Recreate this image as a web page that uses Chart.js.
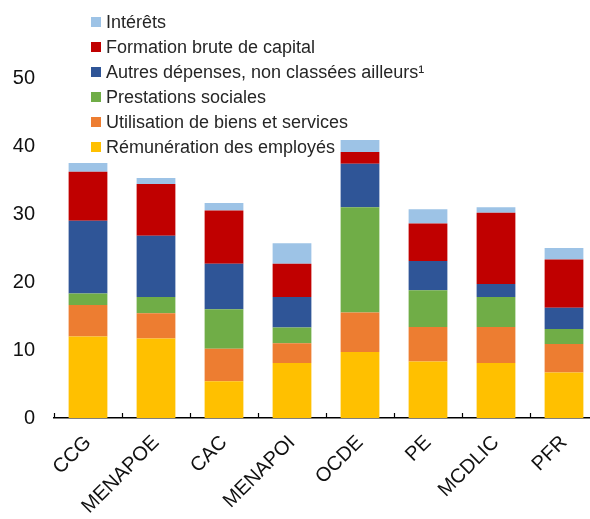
<!DOCTYPE html>
<html>
<head>
<meta charset="utf-8">
<script src="https://cdn.jsdelivr.net/npm/chart.js@4.4.0/dist/chart.umd.min.js"></script>
<style>
  html, body { margin: 0; padding: 0; background: #fff; overflow: hidden; }
  #wrap { width: 600px; height: 519px; }
</style>
</head>
<body>
<div id="wrap"><canvas id="canvas" width="600" height="519"></canvas></div>
<script>
// categories (regions)
let regions = ['CCG', 'MENAPOE', 'CAC', 'MENAPOI', 'OCDE', 'PE', 'MCDLIC', 'PFR'];

// % values, bottom to top
let remuneration = [12.0, 11.7, 5.4, 8.1, 9.7, 8.3, 8.1, 6.7];
let biensServices = [4.6, 3.7, 4.8, 2.9, 5.8, 5.1, 5.3, 4.2];
let prestations = [1.7, 2.4, 5.8, 2.3, 15.5, 5.4, 4.4, 2.2];
let autresDepenses = [10.7, 9.0, 6.7, 4.5, 6.4, 4.3, 1.9, 3.1];
let formationCapital = [7.2, 7.6, 7.8, 4.9, 1.7, 5.5, 10.5, 7.1];
let interets = [1.3, 0.9, 1.1, 3.0, 1.8, 2.1, 0.8, 1.7];

let yTicks = [0, 10, 20, 30, 40, 50];

let font = 'Liberation Sans, Arial, sans-serif';

// legend drawn inside the plot area, top item = last dataset
let insideLegend = {
  id: 'insideLegend',
  afterDraw(chart) {
    let ctx = chart.ctx;
    let sets = chart.data.datasets.slice().reverse();
    ctx.save();
    ctx.font = '18px ' + font;
    ctx.textBaseline = 'middle';
    ctx.textAlign = 'left';
    sets.forEach(function(ds, i){
      let y = 22 + i * 25;
      ctx.fillStyle = ds.backgroundColor;
      ctx.fillRect(91, y - 5, 10, 10);
      ctx.fillStyle = '#262626';
      ctx.fillText(ds.label, 106, y + 1);
    });
    ctx.restore();
  }
};

// small tick marks pointing up from the x axis, between categories
let innerTicks = {
  id: 'innerTicks',
  afterDraw(chart) {
    let x = chart.scales.x;
    let ctx = chart.ctx;
    let step = (x.right - x.left) / regions.length;
    ctx.save();
    ctx.strokeStyle = '#000';
    ctx.lineWidth = 1.2;
    for (let i = 0; i <= regions.length; i++) {
      let px = Math.round(x.left + i * step) + 0.5;
      ctx.beginPath();
      ctx.moveTo(px, x.top);
      ctx.lineTo(px, x.top - 5);
      ctx.stroke();
    }
    ctx.restore();
  }
};

function makeSet(label, data, color) {
  return {
    label: label,
    data: data,
    backgroundColor: color,
    borderWidth: 0,
    categoryPercentage: 1,
    barPercentage: 0.57
  };
}

let chart = new Chart(document.getElementById('canvas').getContext('2d'), {
  type: 'bar',
  data: {
    labels: regions,
    datasets: [
      makeSet('Rémunération des employés', remuneration, '#FFC000'),
      makeSet('Utilisation de biens et services', biensServices, '#ED7D31'),
      makeSet('Prestations sociales', prestations, '#70AD47'),
      makeSet('Autres dépenses, non classées ailleurs¹', autresDepenses, '#2F5597'),
      makeSet('Formation brute de capital', formationCapital, '#C00000'),
      makeSet('Intérêts', interets, '#9DC3E6')
    ]
  },
  options: {
    responsive: false,
    animation: false,
    devicePixelRatio: 1,
    layout: { padding: { top: 78, right: 2, left: 0, bottom: 0 } },
    plugins: {
      legend: { display: false },
      tooltip: { enabled: false }
    },
    scales: {
      x: {
        stacked: true,
        afterFit: function(scale){ scale.height = 101; },
        grid: { display: false },
        border: { display: true, color: '#000', width: 1.5 },
        ticks: {
          color: '#111',
          font: { family: font, size: 20 },
          minRotation: 45,
          maxRotation: 45,
          padding: 5
        }
      },
      y: {
        stacked: true,
        min: 0,
        max: 50,
        afterFit: function(scale){ scale.width = 54; },
        afterBuildTicks: function(scale){
          scale.ticks = yTicks.map(function(v){ return { value: v }; });
        },
        grid: { display: false },
        border: { display: false },
        ticks: {
          color: '#111',
          font: { family: font, size: 20 },
          padding: 11
        }
      }
    }
  },
  plugins: [insideLegend, innerTicks]
});
</script>
</body>
</html>
